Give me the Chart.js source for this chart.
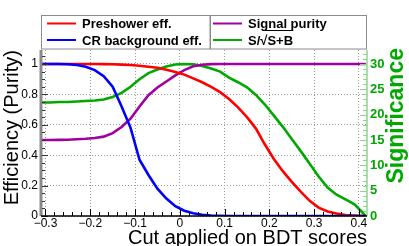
<!DOCTYPE html>
<html>
<head>
<meta charset="utf-8">
<script src="https://cdn.jsdelivr.net/npm/chart.js@4.4.1/dist/chart.umd.min.js"></script>
<style>
  html, body { margin: 0; padding: 0; background: #fff; }
  #wrap { width: 409px; height: 246px; }
</style>
</head>
<body>
<div id="wrap"><canvas id="chart" width="409" height="246"></canvas></div>
<script>
// cut values (x) shared by all curves
const cuts = [
    -0.31, -0.29, -0.27, -0.25, -0.23, -0.21, -0.19, -0.17, -0.15, -0.13,
    -0.11, -0.09, -0.07, -0.05, -0.03, -0.01, 0.01, 0.03, 0.05, 0.07,
    0.09, 0.11, 0.13, 0.15, 0.17, 0.19, 0.21, 0.23, 0.25, 0.27,
    0.29, 0.31, 0.33, 0.35, 0.37, 0.39, 0.41, 0.415
]

const preshowerEff = [
    1.000, 1.000, 1.000, 1.000, 1.000, 1.000, 1.000, 0.999, 0.998, 0.996,
    0.993, 0.988, 0.982, 0.975, 0.962, 0.948, 0.930, 0.905, 0.880, 0.850,
    0.815, 0.770, 0.715, 0.650, 0.575, 0.470, 0.375, 0.295, 0.225, 0.160,
    0.100, 0.055, 0.030, 0.016, 0.007, 0.003, 0.000, 0.000
]

const crBackgroundEff = [
    1.000, 1.000, 1.000, 0.998, 0.993, 0.982, 0.960, 0.920, 0.850, 0.720,
    0.580, 0.370, 0.270, 0.180, 0.115, 0.065, 0.035, 0.018, 0.008, 0.003,
    0.001, 0.000, 0.000, 0.000, 0.000, 0.000, 0.000, 0.000, 0.000, 0.000,
    0.000, 0.000, 0.000, 0.000, 0.000, 0.000, 0.000, 0.000
]

const signalPurity = [
    0.500, 0.500, 0.501, 0.502, 0.505, 0.508, 0.513, 0.522, 0.545, 0.585,
    0.640, 0.720, 0.795, 0.845, 0.885, 0.925, 0.960, 0.985, 0.995, 0.999,
    1.000, 1.000, 1.000, 1.000, 1.000, 1.000, 1.000, 1.000, 1.000, 1.000,
    1.000, 1.000, 1.000, 1.000, 1.000, 1.000, 1.000, 1.000
]

// S/sqrt(S+B), right axis
const significance = [
    22.4, 22.4, 22.5, 22.5, 22.6, 22.7, 22.8, 23.0, 23.5, 24.3,
    25.5, 27.0, 28.2, 28.9, 29.5, 29.9, 30.0, 29.95, 29.6, 29.1,
    28.5, 27.3, 26.4, 25.4, 23.9, 22.0, 19.8, 17.6, 15.2, 12.8,
    10.3, 7.8, 5.6, 4.2, 3.3, 2.3, 0.5, 0.0
]

const xTicks = [-0.3, -0.2, -0.1, 0, 0.1, 0.2, 0.3, 0.4]
const yTicks = [0, 0.2, 0.4, 0.6, 0.8, 1]
const sigTicks = [0, 5, 10, 15, 20, 25, 30]

const legendLabels = ["Preshower eff.", "CR background eff.", "Signal purity", "S/\u221AS+B"]

const FONT = "'Liberation Sans', Arial, sans-serif"
const RED = "#ff0000"
const BLUE = "#0000ff"
const PURPLE = "#a000a0"
const GREEN = "#00a800"
const LIGHT_GREEN = "#88d888"

const toPoints = (ys) => cuts.map((x, i) => ({ x: x, y: ys[i] }))

// ROOT-like axes: inward major/minor ticks
const rootAxes = {
    id: "rootAxes",
    afterDatasetsDraw(chart) {
        const { ctx, chartArea: a, scales } = chart
        const { x, y, y2 } = scales
        ctx.save()

        // left axis
        ctx.strokeStyle = "#8a8a8a"
        ctx.lineWidth = 3
        ctx.beginPath()
        ctx.moveTo(a.left, a.top)
        ctx.lineTo(a.left, a.bottom)
        ctx.stroke()
        ctx.strokeStyle = "#333"
        ctx.lineWidth = 1
        for (let v = 0; v <= 1.09; v += 0.05) {
            const py = Math.round(y.getPixelForValue(v)) + 0.5
            const major = Math.abs(v * 5 - Math.round(v * 5)) < 1e-6
            ctx.beginPath()
            ctx.moveTo(a.left + 1, py)
            ctx.lineTo(a.left + (major ? 7 : 4), py)
            ctx.stroke()
        }

        // right axis
        ctx.strokeStyle = LIGHT_GREEN
        ctx.lineWidth = 1.5
        ctx.beginPath()
        ctx.moveTo(a.right, a.top)
        ctx.lineTo(a.right, a.bottom)
        ctx.stroke()
        ctx.lineWidth = 1
        for (let v = 0; v <= 32; v += 1) {
            const py = Math.round(y2.getPixelForValue(v)) + 0.5
            const major = v % 5 === 0
            ctx.beginPath()
            ctx.moveTo(a.right, py)
            ctx.lineTo(a.right - (major ? 7 : 4), py)
            ctx.stroke()
        }

        // bottom axis
        ctx.strokeStyle = "#000"
        ctx.lineWidth = 1.5
        ctx.beginPath()
        ctx.moveTo(a.left, a.bottom)
        ctx.lineTo(a.right, a.bottom)
        ctx.stroke()
        ctx.lineWidth = 1
        for (let i = -15; i <= 20; i++) {
            const v = i * 0.02
            const px = Math.round(x.getPixelForValue(v)) + 0.5
            const major = i % 5 === 0
            ctx.beginPath()
            ctx.moveTo(px, a.bottom)
            ctx.lineTo(px, a.bottom - (major ? 7 : 4))
            ctx.stroke()
        }

        ctx.restore()
    },
    afterDraw(chart) {
        const { ctx } = chart
        ctx.save()

        // right axis title, reads bottom to top
        ctx.translate(403, 48)
        ctx.rotate(-Math.PI / 2)
        ctx.fillStyle = GREEN
        ctx.font = "bold 23px " + FONT
        ctx.textAlign = "right"
        ctx.textBaseline = "alphabetic"
        ctx.fillText("Significance", 0, 0)
        ctx.restore()

        // legend: two framed columns
        ctx.save()
        ctx.fillStyle = "#fff"
        ctx.strokeStyle = "#8c8c8c"
        ctx.lineWidth = 1
        ctx.fillRect(41, 15, 326, 34)
        ctx.strokeRect(41.5, 15.5, 168.5, 33.5)
        ctx.strokeRect(210.5, 15.5, 156, 33.5)

        const entries = [
            { label: legendLabels[0], color: RED, x: 47, y: 23.5 },
            { label: legendLabels[1], color: BLUE, x: 47, y: 40 },
            { label: legendLabels[2], color: PURPLE, x: 213, y: 23.5 },
            { label: legendLabels[3], color: GREEN, x: 213, y: 40 }
        ]
        ctx.font = "bold 13px " + FONT
        ctx.textBaseline = "alphabetic"
        ctx.textAlign = "left"
        entries.forEach((e) => {
            ctx.strokeStyle = e.color
            ctx.lineWidth = 2
            ctx.beginPath()
            ctx.moveTo(e.x, e.y)
            ctx.lineTo(e.x + 29, e.y)
            ctx.stroke()
            ctx.fillStyle = "#000"
            ctx.fillText(e.label, e.x + 35, e.y + 4.5)
        })

        // overline of the square root
        const sq = entries[3]
        const start = sq.x + 35 + ctx.measureText("S/").width + 3
        const end = sq.x + 35 + ctx.measureText(sq.label).width
        ctx.strokeStyle = "#000"
        ctx.lineWidth = 1
        ctx.beginPath()
        ctx.moveTo(start, 30.5)
        ctx.lineTo(end, 30.5)
        ctx.stroke()

        ctx.restore()
    }
}

const lineSet = (label, data, color, axis, order) => ({
    label: label,
    data: toPoints(data),
    borderColor: color,
    backgroundColor: color,
    borderWidth: 2.6,
    pointRadius: 0,
    tension: 0,
    fill: false,
    yAxisID: axis,
    order: order
})

const fmt = (v) => String(Math.round(v * 10) / 10).replace("-", "\u2212")

new Chart(document.getElementById("chart"), {
    type: "line",
    data: {
        datasets: [
            lineSet(legendLabels[0], preshowerEff, RED, "y", 2),
            lineSet(legendLabels[1], crBackgroundEff, BLUE, "y", 1),
            lineSet(legendLabels[2], signalPurity, PURPLE, "y", 3),
            lineSet(legendLabels[3], significance, GREEN, "y2", 4)
        ]
    },
    options: {
        responsive: false,
        animation: false,
        devicePixelRatio: 1,
        layout: { padding: { top: 50, left: 0, right: 0, bottom: 0 } },
        plugins: {
            legend: { display: false },
            tooltip: { enabled: false }
        },
        scales: {
            x: {
                type: "linear",
                min: -0.31,
                max: 0.418,
                afterBuildTicks: (s) => { s.ticks = xTicks.map((v) => ({ value: v })) },
                afterFit: (s) => { s.height = 30 },
                grid: { color: "#9a9a9a", lineWidth: 1, drawTicks: false },
                border: { display: false, dash: [1, 2] },
                ticks: {
                    color: "#000",
                    font: { family: FONT, size: 12, lineHeight: 1 },
                    padding: 2,
                    maxRotation: 0,
                    autoSkip: false,
                    callback: (v) => fmt(v)
                },
                title: {
                    display: true,
                    text: "Cut applied on BDT scores",
                    align: "end",
                    color: "#000",
                    font: { family: FONT, size: 20, lineHeight: 0.72 },
                    padding: 0
                }
            },
            y: {
                type: "linear",
                position: "left",
                min: 0,
                max: 1.092,
                afterBuildTicks: (s) => { s.ticks = yTicks.map((v) => ({ value: v })) },
                afterFit: (s) => { s.width = 41 },
                grid: { color: "#9a9a9a", lineWidth: 1, drawTicks: false },
                border: { display: false, dash: [1, 2] },
                ticks: {
                    color: "#000",
                    font: { family: FONT, size: 12 },
                    padding: 3,
                    callback: (v) => fmt(v)
                },
                title: {
                    display: true,
                    text: "Efficiency (Purity)",
                    align: "end",
                    color: "#000",
                    font: { family: FONT, size: 20 },
                    padding: 0
                }
            },
            y2: {
                type: "linear",
                position: "right",
                min: 0,
                max: 32.76,
                afterBuildTicks: (s) => { s.ticks = sigTicks.map((v) => ({ value: v })) },
                afterFit: (s) => { s.width = 42 },
                grid: { display: false, drawTicks: false },
                border: { display: false },
                ticks: {
                    color: GREEN,
                    font: { family: FONT, size: 13, weight: "bold" },
                    padding: 3,
                    callback: (v) => String(v)
                }
            }
        }
    },
    plugins: [rootAxes]
})
</script>
</body>
</html>
